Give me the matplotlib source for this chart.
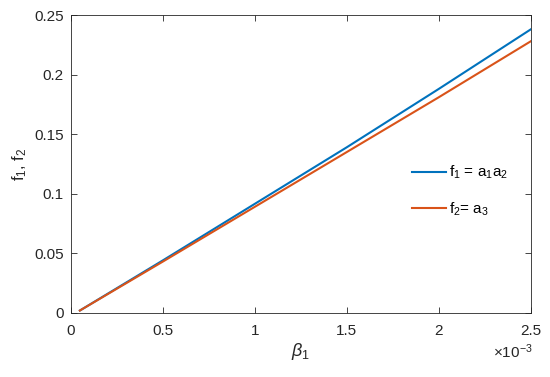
import matplotlib.pyplot as plt

plt.rcParams['font.family'] = ['Liberation Sans', 'DejaVu Sans']
plt.rcParams['mathtext.fontset'] = 'custom'
plt.rcParams['mathtext.rm'] = 'Liberation Sans'
plt.rcParams['mathtext.it'] = 'Liberation Sans:italic'

beta = [0.05e-3, 0.5e-3, 1.0e-3, 1.5e-3, 2.0e-3, 2.5e-3]
f1 = [0.002, 0.044, 0.0915, 0.139, 0.188, 0.238]
f2 = [0.002, 0.043, 0.089, 0.135, 0.181, 0.228]
xticks = [0, 0.5e-3, 1e-3, 1.5e-3, 2e-3, 2.5e-3]
xlabels = ['0', '0.5', '1', '1.5', '2', '2.5']
yticks = [0, 0.05, 0.1, 0.15, 0.2, 0.25]
ylabels = ['0', '0.05', '0.1', '0.15', '0.2', '0.25']

fig = plt.figure(figsize=(5.5, 3.77), dpi=100)
ax = fig.add_axes([0.1285, 0.170, 0.8365, 0.790])
ax.plot(beta, f1, color='#0072BD', lw=1.5, label=r'f$_1$ = a$_1$a$_2$')
ax.plot(beta, f2, color='#D95319', lw=1.5, label=r'f$_2$= a$_3$')

ax.set_xlim(0, 2.5e-3)
ax.set_ylim(0, 0.25)
ax.set_xticks(xticks)
ax.set_xticklabels(xlabels)
ax.set_yticks(yticks)
ax.set_yticklabels(ylabels)
ax.tick_params(direction='in', top=True, right=True, labelsize=11, colors='#262626', length=4, width=0.6)
ax.tick_params(axis='x', pad=8)
ax.tick_params(axis='y', pad=5)
for s in ax.spines.values():
    s.set_color('#262626')
    s.set_linewidth(0.6)

fig.text(0.968, 0.066, r'$\times$10$^{-3}$', ha='right', va='center', fontsize=11, color='#262626')

ax.set_xlabel(r'$\beta_1$', fontsize=13, color='#262626', labelpad=2)
ax.set_ylabel(r'f$_1$, f$_2$', fontsize=12, color='#262626')

ax.legend(frameon=False, loc='center left', bbox_to_anchor=(0.713, 0.41), fontsize=11,
          handlelength=2.2, handletextpad=0.2, labelspacing=1.25)

fig.savefig('out.png', dpi=100)
